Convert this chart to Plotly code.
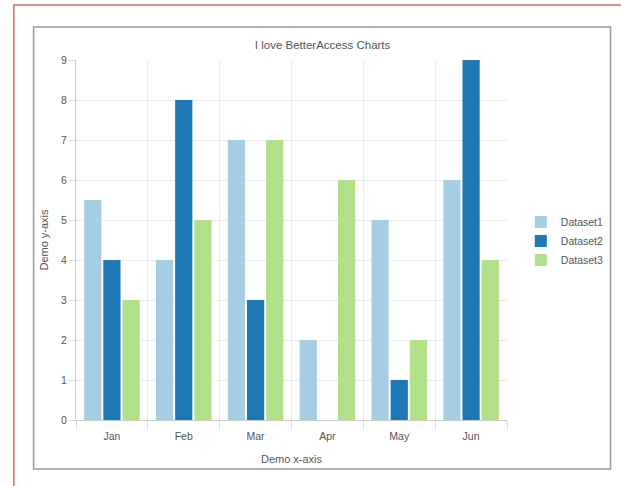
import plotly.graph_objects as go

months = ["Jan", "Feb", "Mar", "Apr", "May", "Jun"]
dataset1 = [5.5, 4, 7, 2, 5, 6]
dataset2 = [4, 8, 3, 0, 1, 9]
dataset3 = [3, 5, 7, 6, 2, 4]
series_names = ["Dataset1", "Dataset2", "Dataset3"]
colors = ["#a6cee3", "#1f78b4", "#b2df8a"]
y_ticks = list(range(0, 10))

L, R, T, B = 76, 108, 60, 66
W, H = 621, 486
pw, ph = W - L - R, H - T - B


def px_x(p):
    return (p - L) / pw


def px_y(p):
    return (H - B - p) / ph


fig = go.Figure()
for name, vals, col in zip(series_names, [dataset1, dataset2, dataset3], colors):
    fig.add_trace(go.Bar(x=months, y=vals, name=name, marker_color=col,
                         marker_line_width=0))

FAM = "Liberation Sans, Arial, sans-serif"
TXT = "#555555"
font = dict(family=FAM, size=10.5, color=TXT)

fig.update_layout(
    width=W, height=H,
    margin=dict(l=L, r=R, t=T, b=B, pad=0),
    paper_bgcolor="white", plot_bgcolor="white",
    font=font,
    barmode="group", bargap=0.2, bargroupgap=0.1,
    title=dict(text="I love BetterAccess Charts", x=px_x(326), xref="paper",
               xanchor="center", y=1 - 45 / H, yanchor="middle",
               font=dict(family=FAM, size=11.5, color=TXT)),
    legend=dict(x=px_x(527), xanchor="left", y=px_y(241), yanchor="middle",
                font=dict(family=FAM, size=10.5, color=TXT), bgcolor="rgba(0,0,0,0)"),
    xaxis=dict(type="category", tickson="boundaries", showgrid=True,
               gridcolor="#ebebeb", gridwidth=1, ticks="outside", ticklen=8,
               tickcolor="#dddddd", showline=True, linecolor="#cccccc",
               ticklabelstandoff=6,
               tickfont=dict(family=FAM, size=10.5, color=TXT),
               title=dict(text="Demo x-axis", standoff=14,
                          font=dict(family=FAM, size=11, color=TXT))),
    yaxis=dict(range=[0, 9], tickvals=y_ticks, showgrid=True, gridcolor="#ebebeb",
               ticks="outside", ticklen=6, tickcolor="#dddddd", showline=True,
               linecolor="#cccccc", zeroline=False,
               tickfont=dict(family=FAM, size=10.5, color=TXT),
               title=dict(text="Demo y-axis", standoff=10,
                          font=dict(family=FAM, size=11, color=TXT))),
    shapes=[
        dict(type="rect", xref="paper", yref="paper",
             x0=px_x(33), x1=px_x(618), y0=px_y(469), y1=px_y(27),
             line=dict(color="#9a9a9a", width=1.5), layer="below"),
        dict(type="rect", xref="paper", yref="paper",
             x0=px_x(13), x1=px_x(630), y0=px_y(495), y1=px_y(5),
             line=dict(color="#d46a6a", width=1.5), layer="below"),
    ],
)

fig.write_html("out.html", config={"displayModeBar": False},
               post_script="document.body.style.margin='0';")
